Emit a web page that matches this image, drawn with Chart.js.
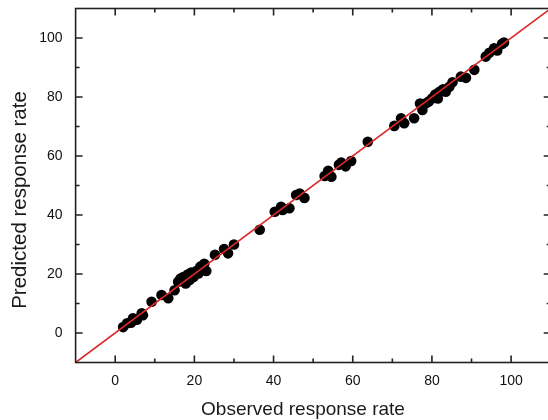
<!DOCTYPE html>
<html>
<head>
<meta charset="utf-8">
<style>
html,body{margin:0;padding:0;overflow:hidden;background:#fff;}
#wrap{width:556px;height:420px;}
</style>
<script src="https://cdn.jsdelivr.net/npm/chart.js@4/dist/chart.umd.min.js"></script>
</head>
<body>
<div id="wrap"><canvas id="c" width="556" height="420"></canvas></div>
<script>
const observed = [2.0,3.0,4.0,4.5,5.5,6.7,7.0,
  9.2,11.7,13.4,15.0,
  15.9,16.5,17.2,17.8,18.3,18.8,19.2,19.8,20.5,21.0,21.5,22.0,22.5,23.0,
  25.2,27.5,28.5,30.0,
  36.5,
  40.3,41.9,42.3,44.0,
  45.7,46.6,47.8,
  52.9,53.8,54.6,
  56.5,57.1,58.2,59.6,
  63.8,
  70.5,72.2,73.0,75.5,
  77.0,77.6,78.5,79.2,80.0,80.8,81.5,81.9,82.8,83.5,84.4,85.2,
  87.3,88.6,90.7,
  93.6,94.5,95.7,96.5,97.7,98.2];
const predicted = [2.0,3.3,3.5,5.0,4.5,6.7,6.0,
  10.6,12.9,11.8,14.5,
  17.4,18.5,19.0,16.8,19.8,18.0,20.5,19.0,21.0,20.2,22.5,21.5,23.5,21.0,
  26.5,28.5,27.0,30.0,
  35.0,
  41.1,42.8,41.7,42.3,
  46.8,47.3,45.8,
  53.2,55.0,53.0,
  57.0,57.8,56.5,58.3,
  64.8,
  70.2,72.8,71.1,72.8,
  77.8,75.6,77.9,78.5,79.5,80.8,79.5,81.8,82.6,81.8,83.5,85.0,
  86.9,86.5,89.2,
  93.7,95.0,96.5,95.8,98.0,98.5];
const lineX = [-10, 110];
const lineY = [-10, 110];
const axisMin = -10, axisMax = 110, tickStep = 10;
const labelTicks = [0, 20, 40, 60, 80, 100];
const xTitle = 'Observed response rate';
const yTitle = 'Predicted response rate';

const points = observed.map((v, i) => ({x: v, y: predicted[i]}));
const linePts = lineX.map((v, i) => ({x: v, y: lineY[i]}));

const frameTicks = {
  id: 'frameTicks',
  afterDraw(chart) {
    const ctx = chart.ctx, a = chart.chartArea;
    const xs = chart.scales.x, ys = chart.scales.y;
    ctx.save();
    ctx.strokeStyle = '#222';
    ctx.lineWidth = 1.6;
    ctx.strokeRect(a.left, a.top, a.right - a.left, a.bottom - a.top);
    ctx.beginPath();
    xs.ticks.forEach(t => {
      const v = t.value;
      if (v <= axisMin || v >= axisMax) return;
      const len = (v % 20 === 0) ? 7 : 4;
      const px = xs.getPixelForValue(v);
      ctx.moveTo(px, a.bottom); ctx.lineTo(px, a.bottom - len);
      ctx.moveTo(px, a.top); ctx.lineTo(px, a.top + len);
    });
    ys.ticks.forEach(t => {
      const v = t.value;
      if (v <= axisMin || v >= axisMax) return;
      const len = (v % 20 === 0) ? 7 : 4;
      const py = ys.getPixelForValue(v);
      ctx.moveTo(a.left, py); ctx.lineTo(a.left + len, py);
      ctx.moveTo(a.right, py); ctx.lineTo(a.right - len, py);
    });
    ctx.stroke();
    // axis titles
    ctx.fillStyle = '#1a1a1a';
    ctx.textAlign = 'center';
    ctx.textBaseline = 'middle';
    ctx.font = '19px "Liberation Sans", Arial, sans-serif';
    ctx.fillText(xTitle, 303, 410);
    ctx.translate(20, 200);
    ctx.rotate(-Math.PI / 2);
    ctx.font = '20.5px "Liberation Sans", Arial, sans-serif';
    ctx.fillText(yTitle, 0, 0);
    ctx.restore();
  }
};

const tickCb = v => labelTicks.includes(v) ? String(v) : '';

new Chart(document.getElementById('c'), {
  data: {
    datasets: [
      {type: 'line', data: linePts, borderColor: '#dc2828', borderWidth: 1.6, pointRadius: 0, fill: false, order: 0},
      {type: 'scatter', data: points, backgroundColor: '#000', borderColor: '#000', borderWidth: 0, pointRadius: 5.3, pointHoverRadius: 5.3, order: 1}
    ]
  },
  options: {
    responsive: false,
    animation: false,
    events: [],
    layout: {padding: {top: 8.5, right: 4.3, left: 0, bottom: 0}},
    plugins: {legend: {display: false}, tooltip: {enabled: false}},
    scales: {
      x: {
        type: 'linear', min: axisMin, max: axisMax,
        grid: {display: false, drawTicks: false},
        border: {display: false},
        ticks: {stepSize: tickStep, autoSkip: false, maxRotation: 0, padding: 10, color: '#111',
          font: {family: '"Liberation Sans", Arial, sans-serif', size: 14}, callback: tickCb},
        title: {display: false, text: xTitle},
        afterFit(s) { s.height = 57.5; s.paddingLeft = 0; s.paddingRight = 0; }
      },
      y: {
        type: 'linear', min: axisMin, max: axisMax,
        grid: {display: false, drawTicks: false},
        border: {display: false},
        ticks: {stepSize: tickStep, autoSkip: false, padding: 13, color: '#111',
          font: {family: '"Liberation Sans", Arial, sans-serif', size: 14}, callback: tickCb},
        title: {display: false, text: yTitle},
        afterFit(s) { s.width = 75.6; s.paddingTop = 0; s.paddingBottom = 0; }
      }
    }
  },
  plugins: [frameTicks]
});
</script>
</body>
</html>
